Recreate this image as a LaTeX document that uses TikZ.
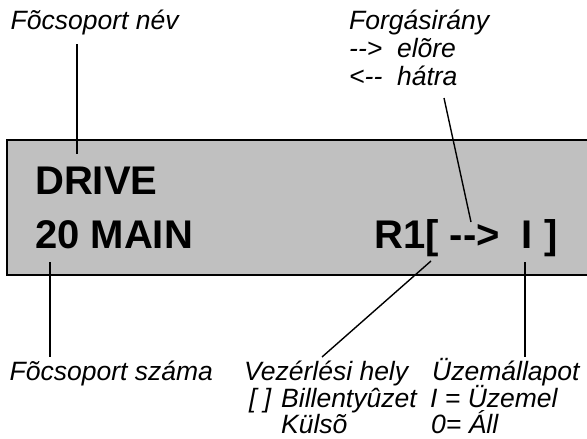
\documentclass[tikz,border=0pt]{standalone}
\usepackage{fontspec}
\setmainfont{Liberation Sans}
\definecolor{panel}{HTML}{C0C0C0}
\begin{document}
\begin{tikzpicture}[x=1pt,y=-1pt,
  lbl/.style={font=\fontsize{26.5}{27.5}\selectfont\itshape, anchor=base west, inner sep=0pt},
  big/.style={font=\fontsize{40}{44}\selectfont\bfseries, anchor=base west, inner sep=0pt},
  conn/.style={line width=1.4pt}]
\useasboundingbox (0,0) rectangle (587,439);
% display panel
\fill[panel] (7,140) rectangle (587,275);
\draw[line width=2pt] (592,140) -- (7,140) -- (7,275) -- (592,275);
% panel texts
\node[big] (drive) at (35,194) {DRIVE};
\node[big] (main) at (35,248) {20 MAIN};
\node[big] (status) at (374,248) {R1[ -{}->~~I ]};
% top labels
\node[lbl] (nev) at (10.5,29) {Fõcsoport név};
\node[lbl] (forg) at (349,29) {Forgásirány};
\node[lbl] (elore) at (349,57) {-{}->~~elõre};
\node[lbl] (hatra) at (349,85) {<-{}-~~hátra};
% bottom labels
\node[lbl] (szama) at (9.5,380.5) {Fõcsoport száma};
\node[lbl] (vez) at (244,380.5) {Vezérlési hely};
\node[lbl] (brk) at (249,407) {[ ]};
\node[lbl] (bill) at (281,407) {Billentyûzet};
\node[lbl] (kulso) at (281,433) {Külsõ};
\node[lbl] (uzem) at (432,380.5) {Üzemállapot};
\node[lbl] (uzemel) at (430,407) {I = Üzemel};
\node[lbl] (all) at (431,433) {0= Áll};
% connector end points
\coordinate (c1a) at (77,44);   \coordinate (c1b) at (77,154);
\coordinate (c2a) at (444,98);  \coordinate (c2b) at (471,222);
\coordinate (c3a) at (50,262);  \coordinate (c3b) at (50,357);
\coordinate (c4a) at (431,261); \coordinate (c4b) at (322,357);
\coordinate (c5a) at (525,262); \coordinate (c5b) at (525,357);
\draw[conn] (c1a) -- (c1b);
\draw[conn] (c2a) -- (c2b);
\draw[conn] (c3a) -- (c3b);
\draw[conn] (c4a) -- (c4b);
\draw[conn] (c5a) -- (c5b);
\end{tikzpicture}
\end{document}
